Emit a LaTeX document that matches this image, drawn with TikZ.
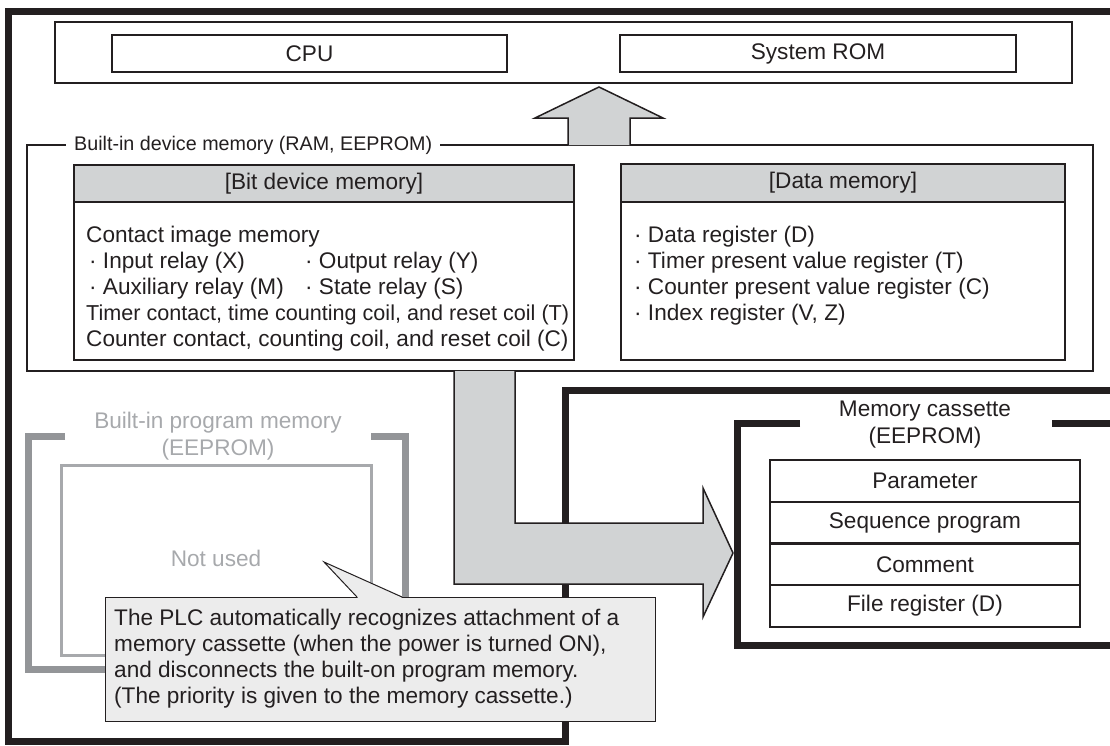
\documentclass[tikz,border=0pt]{standalone}
\usepackage{fontspec}
\setmainfont{Liberation Sans}
\usetikzlibrary{positioning}
\definecolor{inkblack}{RGB}{35,31,32}
\definecolor{panelgray}{RGB}{209,211,212}
\definecolor{notegray}{RGB}{236,236,236}
\definecolor{framegray}{RGB}{147,149,152}
\definecolor{textgray}{RGB}{167,169,172}
\newcommand{\diagfont}{\fontsize{22.6}{27}\selectfont}
\newcommand{\titlefont}{\fontsize{19.7}{24}\selectfont}
\newcommand{\tightfont}{\fontsize{21.6}{27}\selectfont}
\tikzset{
  plain/.style={font=\diagfont,text=inkblack,inner sep=0pt},
  unit/.style={draw=inkblack,line width=1.5pt,inner sep=0pt,font=\diagfont,text=inkblack},
  headbox/.style={unit,fill=panelgray},
  cell/.style={unit,line width=2pt,minimum width=310pt,minimum height=41.75pt},
  fat/.style={draw=inkblack,line width=7pt},
  blockarrow/.style={draw=inkblack,line width=1.5pt,fill=panelgray},
}
\begin{document}
\begin{tikzpicture}[x=1pt,y=-1pt,line join=miter]
\useasboundingbox (0,0) rectangle (1110,745);
% PLC body outline
\draw[fat] (1115,11) -- (8.5,11) -- (8.5,741) -- (565.5,741) -- (565.5,390) -- (1115,390);
% CPU and system ROM
\node[unit,minimum width=1017pt,minimum height=61pt] (core) at (563.5,52.5) {};
\node[unit,minimum width=395pt,minimum height=37pt] (cpu) at (309.5,53.5) {CPU};
\node[unit,minimum width=396pt,minimum height=37pt] (rom) at (818,53.5) {System ROM};
% built-in device memory
\node[unit,line width=2.5pt,minimum width=1066pt,minimum height=226pt] (devmem) at (560,258) {};
\node[plain,font=\titlefont,fill=white,inner xsep=8pt,inner ysep=2pt,anchor=west] (devtitle) at (66,145) {Built-in device memory (RAM, EEPROM)};
\node[unit,minimum width=500pt,minimum height=195pt] (bitmem) at (324,262.5) {};
\node[headbox,minimum width=500pt,minimum height=37pt] (bithead) at (324,183.5) {[Bit device memory]};
\node[unit,minimum width=444pt,minimum height=196pt] (datamem) at (843,262) {};
\node[headbox,minimum width=444pt,minimum height=38pt] (datahead) at (843,183) {[Data memory]};
\node[plain,anchor=base west] (bit1) at (86,242) {Contact image memory};
\node[plain,anchor=base west] (bit2) at (89,268) {· Input relay (X)};
\node[plain,anchor=base west] (bit3) at (305,268) {· Output relay (Y)};
\node[plain,anchor=base west] (bit4) at (89,294) {· Auxiliary relay (M)};
\node[plain,anchor=base west] (bit5) at (305,294) {· State relay (S)};
\node[plain,font=\tightfont,anchor=base west] (bit6) at (86,320) {Timer contact, time counting coil, and reset coil (T)};
\node[plain,anchor=base west] (bit7) at (86,346) {Counter contact, counting coil, and reset coil (C)};
\node[plain,anchor=base west] (data1) at (634,242) {· Data register (D)};
\node[plain,anchor=base west] (data2) at (634,268) {· Timer present value register (T)};
\node[plain,anchor=base west] (data3) at (634,294) {· Counter present value register (C)};
\node[plain,anchor=base west] (data4) at (634,320) {· Index register (V, Z)};
% transfer arrows
\draw[blockarrow] (568,145) -- (568,118) -- (535,118) -- (599,87) -- (663,118) -- (630,118) -- (630,145);
\draw[blockarrow] (454,371) -- (454,584) -- (703,584) -- (703,617) -- (733,553) -- (703,488) -- (703,523) -- (515,523) -- (515,371);
% built-in program memory (not used)
\draw[line width=7pt,draw=framegray] (65,436) -- (28.5,436) -- (28.5,669) -- (405.5,669) -- (405.5,436) -- (371,436);
\node[draw=textgray,line width=3pt,minimum width=309.5pt,minimum height=190pt,inner sep=0pt] (progmem) at (216.25,560) {};
\node[plain,text=textgray,align=center] (progtitle) at (218,436.5) {Built-in program memory\\(EEPROM)};
\node[plain,text=textgray] (notused) at (216,558) {Not used};
% memory cassette
\draw[fat] (800,423) -- (737.5,423) -- (737.5,645.5) -- (1115,645.5);
\draw[fat] (1052,423) -- (1115,423);
\node[plain,align=center] (casstitle) at (925,424.5) {Memory cassette\\(EEPROM)};
\node[cell] (param) at (925,480.9) {Parameter};
\node[cell] (seqprog) at (925,522.6) {Sequence program};
\node[cell] (comment) at (925,564.4) {Comment};
\node[cell] (filereg) at (925,606.1) {File register (D)};
% note
\node[draw=inkblack,line width=1pt,fill=notegray,minimum width=550pt,minimum height=124pt,inner sep=0pt] (note) at (380,659) {};
\fill[notegray] (357.5,596) -- (324,562) -- (401.5,596) -- (401.5,598.5) -- (357.5,598.5) -- cycle;
\draw[draw=inkblack,line width=1pt] (357,597) -- (324,562) -- (402,597);
\node[plain,anchor=base west] (note1) at (114,625) {The PLC automatically recognizes attachment of a};
\node[plain,anchor=base west] (note2) at (114,651) {memory cassette (when the power is turned ON),};
\node[plain,anchor=base west] (note3) at (114,677) {and disconnects the built-on program memory.};
\node[plain,anchor=base west] (note4) at (114,703) {(The priority is given to the memory cassette.)};
\end{tikzpicture}
\end{document}
